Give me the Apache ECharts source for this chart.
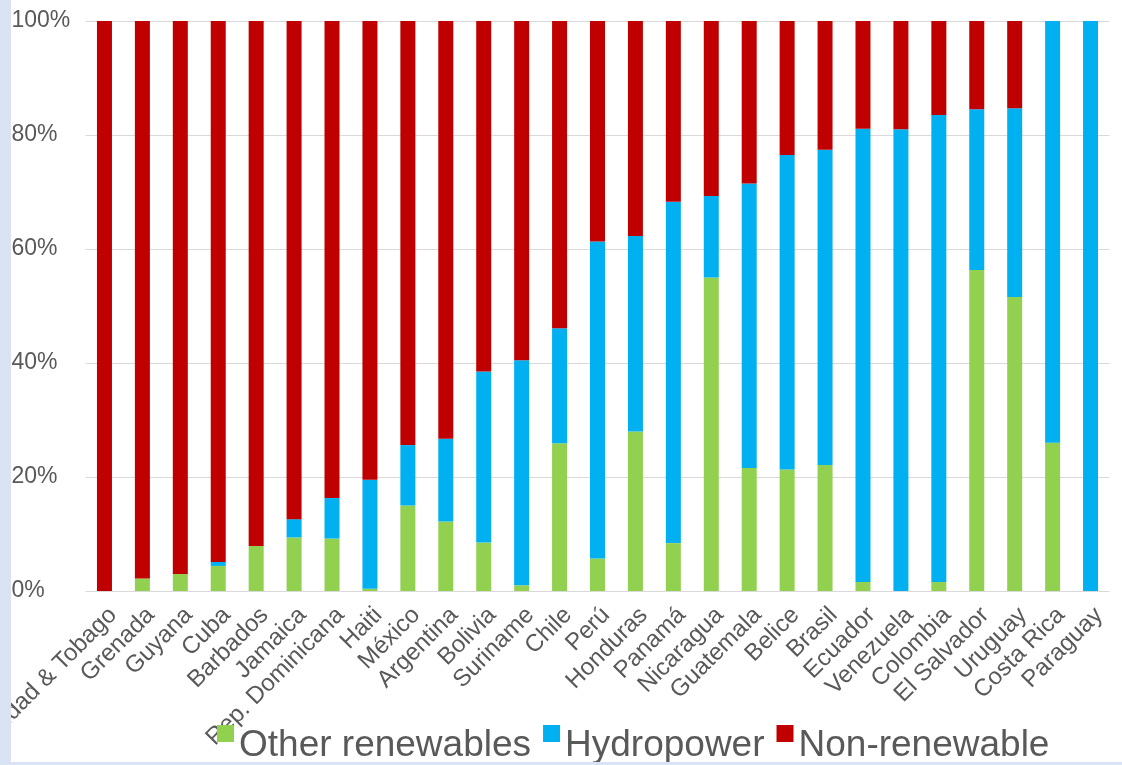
<!DOCTYPE html>
<html>
<head>
<meta charset="utf-8">
<script src="https://cdn.jsdelivr.net/npm/echarts@6/dist/echarts.min.js"></script>
<style>
  html, body { margin: 0; padding: 0; background: #fff; }
  #chart { width: 1122px; height: 765px; }
</style>
</head>
<body>
<div id="chart"></div>
<script>
// 国家 (orden original)
var countries = ['Trinidad & Tobago', 'Grenada', 'Guyana', 'Cuba', 'Barbados', 'Jamaica',
  'Rep. Dominicana', 'Haiti', 'México', 'Argentina', 'Bolivia', 'Suriname', 'Chile', 'Perú',
  'Honduras', 'Panamá', 'Nicaragua', 'Guatemala', 'Belice', 'Brasil', 'Ecuador', 'Venezuela',
  'Colombia', 'El Salvador', 'Uruguay', 'Costa Rica', 'Paraguay'];

var otherRenewables = [0, 2.2, 3.0, 4.4, 7.9, 9.4, 9.2, 0.4, 15.0, 12.2, 8.5, 1.0, 25.9, 5.7,
  28.0, 8.4, 55.0, 21.6, 21.3, 22.1, 1.6, 0, 1.6, 56.3, 51.6, 26.0, 0];
var hydropower = [0, 0, 0, 0.7, 0, 3.2, 7.1, 19.1, 10.6, 14.5, 30.0, 39.5, 20.2, 55.6,
  34.3, 59.9, 14.3, 49.9, 55.2, 55.3, 79.5, 81.0, 81.9, 28.2, 33.1, 74.0, 100];
var nonRenewable = [100, 97.8, 97.0, 94.9, 92.1, 87.4, 83.7, 80.5, 74.4, 73.3, 61.5, 59.5, 53.9, 38.7,
  37.7, 31.7, 30.7, 28.5, 23.5, 22.6, 18.9, 19.0, 16.5, 15.5, 15.3, 0, 0];

var yTicks = [0, 20, 40, 60, 80, 100];

var chart = echarts.init(document.getElementById('chart'));
var font = 'Arial, "Liberation Sans", sans-serif';

chart.setOption({
  backgroundColor: '#fff',
  animation: false,
  color: ['#92D050', '#00B0F0', '#C00000'],
  grid: { left: 85.5, right: 12.5, top: 21, bottom: 174, containLabel: false, outerBoundsMode: 'none' },
  legend: {
    left: 212,
    top: 720,
    itemWidth: 17,
    itemHeight: 17,
    itemGap: 12,
    icon: 'rect',
    formatter: '{t|{name}}',
    textStyle: {
      rich: {
        t: { fontFamily: font, fontSize: 37, color: '#595959', padding: [24, 0, 0, 0] }
      }
    },
    data: ['Other renewables', 'Hydropower', 'Non-renewable']
  },
  xAxis: {
    type: 'category',
    data: countries,
    axisLine: { show: false },
    axisTick: { show: false },
    axisLabel: {
      interval: 0,
      rotate: 45,
      margin: 12,
      verticalAlign: 'top',
      fontFamily: font,
      fontSize: 24,
      color: '#595959'
    }
  },
  yAxis: {
    type: 'value',
    min: yTicks[0],
    max: yTicks[yTicks.length - 1],
    interval: 20,
    axisLine: { show: false },
    axisTick: { show: false },
    splitLine: { lineStyle: { color: '#d9d9d9', width: 1 } },
    axisLabel: {
      align: 'left',
      margin: 74,
      fontFamily: font,
      fontSize: 23,
      color: '#595959',
      formatter: '{value}%'
    }
  },
  series: [
    { name: 'Other renewables', type: 'bar', stack: 'total', barWidth: 15, data: otherRenewables },
    { name: 'Hydropower', type: 'bar', stack: 'total', barWidth: 15, data: hydropower },
    { name: 'Non-renewable', type: 'bar', stack: 'total', barWidth: 15, data: nonRenewable }
  ],
  graphic: [
    { type: 'rect', left: 0, top: 0, z: 100, shape: { width: 11, height: 765 }, style: { fill: '#dae3f3' } },
    { type: 'rect', left: 0, top: 762, z: 100, shape: { width: 1122, height: 3 }, style: { fill: '#dae3f3' } }
  ]
});
</script>
</body>
</html>
